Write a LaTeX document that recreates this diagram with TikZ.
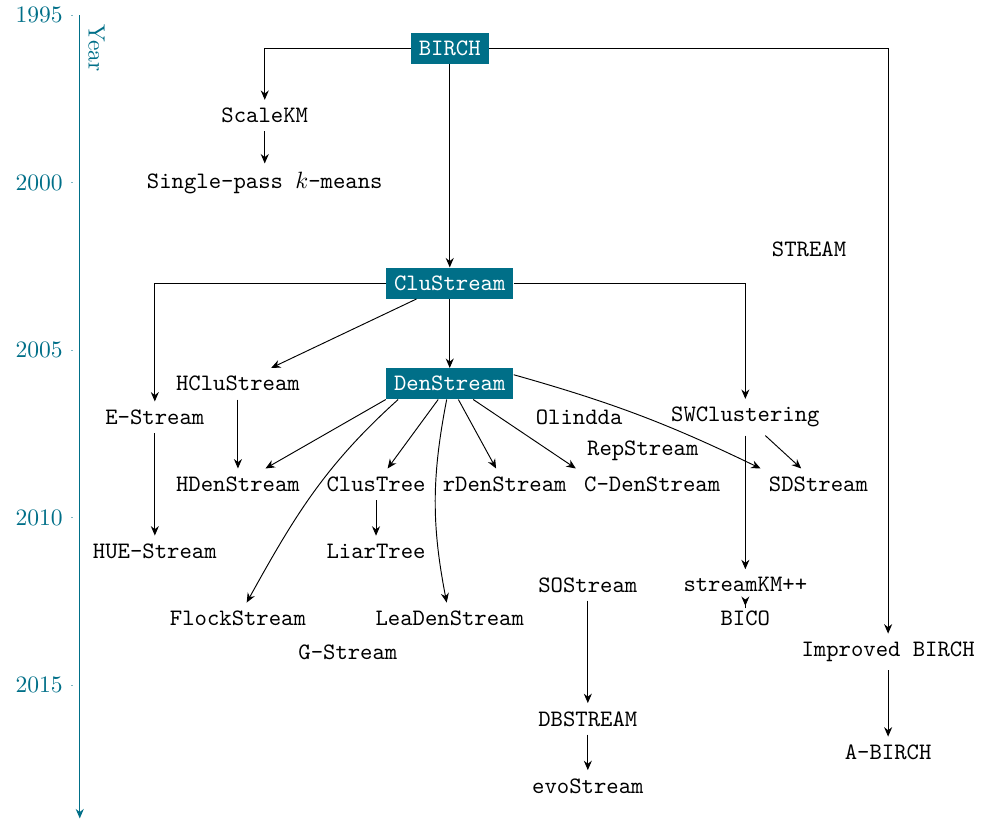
\documentclass[tikz,border=0pt]{standalone}
\usepackage{amsmath}
\usepackage{xcolor}
\usepackage{tikz}
\usetikzlibrary{arrows.meta}
\definecolor{tealblue}{RGB}{0,111,136}

\begin{document}
\begin{tikzpicture}[y=0.5cm,
    algo/.style={font=\ttfamily},
    keyalgo/.style={algo, fill=tealblue, text=white},
    arr/.style={-{Stealth[length=4pt,width=3.4pt]}}]
    \useasboundingbox (-1.19,0.45) rectangle (13.58,-24.03);
    % time axis
    \draw[tealblue, arr] (0,0) -- (0,-23.97);
    \foreach \yr in {1995,2000,...,2015} {
        \draw[tealblue!50] (-0.13,{1995-\yr}) -- (-0.1,{1995-\yr});
        \node[left, text=tealblue] at (-0.13,{1995-\yr}) {\yr};
    }
    \node[rotate=-90, text=tealblue] (yearlabel) at (0.25,-0.98) {Year};

    % algorithms
    \node[keyalgo] (birch) at (5.52,-1) {BIRCH};
    \node[algo] (scalekm) at (2.76,-3) {ScaleKM};
    \node[algo] (singlepass) at (2.76,-5) {Single-pass $k$-means};
    \node[algo] (stream) at (10.88,-7) {STREAM};
    \node[keyalgo] (clustream) at (5.52,-8) {CluStream};
    \node[algo] (hclustream) at (2.36,-11) {HCluStream};
    \node[keyalgo] (denstream) at (5.52,-11) {DenStream};
    \node[algo] (estream) at (1.12,-12) {E-Stream};
    \node[algo] (olindda) at (7.45,-12) {Olindda};
    \node[algo] (swclustering) at (9.93,-12) {SWClustering};
    \node[algo] (repstream) at (8.40,-13) {RepStream};
    \node[algo] (hdenstream) at (2.36,-14) {HDenStream};
    \node[algo] (clustree) at (4.42,-14) {ClusTree};
    \node[algo] (rdenstream) at (6.34,-14) {rDenStream};
    \node[algo] (cdenstream) at (8.54,-14) {C-DenStream};
    \node[algo] (sdstream) at (11.02,-14) {SDStream};
    \node[algo] (huestream) at (1.12,-16) {HUE-Stream};
    \node[algo] (liartree) at (4.42,-16) {LiarTree};
    \node[algo] (sostream) at (7.58,-17) {SOStream};
    \node[algo] (streamkm) at (9.93,-17) {streamKM++};
    \node[algo] (flockstream) at (2.36,-18) {FlockStream};
    \node[algo] (leadenstream) at (5.52,-18) {LeaDenStream};
    \node[algo] (bico) at (9.93,-18) {BICO};
    \node[algo] (gstream) at (4.0,-19) {G-Stream};
    \node[algo] (impbirch) at (12.06,-19) {Improved BIRCH};
    \node[algo] (dbstream) at (7.58,-21) {DBSTREAM};
    \node[algo] (abirch) at (12.06,-22) {A-BIRCH};
    \node[algo] (evostream) at (7.58,-23) {evoStream};

    % descendants
    \draw[arr] (birch) -| (scalekm);
    \draw[arr] (birch) -- (clustream);
    \draw[arr] (birch) -| (impbirch);
    \draw[arr] (scalekm) -- (singlepass);
    \draw[arr] (clustream) -| (estream);
    \draw[arr] (clustream) -| (swclustering);
    \draw[arr] (clustream) -- (hclustream);
    \draw[arr] (clustream) -- (denstream);
    \draw[arr] (hclustream) -- (hdenstream);
    \draw[arr] (estream) -- (huestream);
    \draw[arr] (denstream.south west) -- (hdenstream);
    \draw[arr] (denstream.197) to[out=222, in=61] (flockstream);
    \draw[arr] (denstream) -- (clustree);
    \draw[arr] (denstream) to[bend right=11] (leadenstream);
    \draw[arr] (denstream) -- (rdenstream);
    \draw[arr] (denstream) -- (cdenstream.north west);
    \draw[arr] (denstream.8) to[bend left=5] (sdstream.north west);
    \draw[arr] (clustree) -- (liartree);
    \draw[arr] (swclustering) -- (sdstream);
    \draw[arr] (swclustering) -- (streamkm);
    \draw[arr, shorten <=-1.2mm, shorten >=-0.5mm] (streamkm) -- (bico);
    \draw[arr] (sostream) -- (dbstream);
    \draw[arr] (dbstream) -- (evostream);
    \draw[arr] (impbirch) -- (abirch);
\end{tikzpicture}
\end{document}
